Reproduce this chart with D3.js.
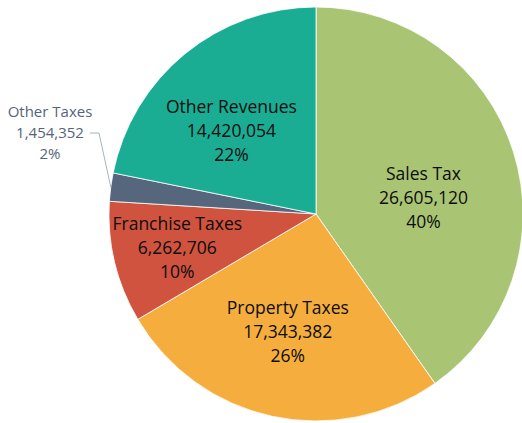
<!DOCTYPE html>
<html lang="en">
<head>
  <meta charset="UTF-8">
  <title>Revenue pie</title>
  <style>
    body { margin: 0; background: #fff; }
    text { font-family: "Open Sans", sans-serif; }
  </style>
</head>
<body>
  <div id="chart"></div>
  <script src="https://d3js.org/d3.v7.min.js"></script>
  <script>
    // data
    const categories = ["Sales Tax", "Property Taxes", "Franchise Taxes", "Other Taxes", "Other Revenues"];
    const values = [26605120, 17343382, 6262706, 1454352, 14420054];
    const percentLabels = ["40%", "26%", "10%", "2%", "22%"];
    const colors = ["#a9c574", "#f5ad3d", "#d0533f", "#56667d", "#1bad94"];

    const width = 522, height = 423;
    const cx = 316, cy = 214, radius = 207;

    const svg = d3.select("#chart")
      .append("svg")
      .attr("width", width)
      .attr("height", height);

    const g = svg.append("g")
      .attr("transform", `translate(${cx},${cy})`);

    const data = categories.map((c, i) => ({ name: c, value: values[i], pct: percentLabels[i], color: colors[i] }));

    const pie = d3.pie().sort(null).value(d => d.value);
    const arcs = pie(data);

    const arc = d3.arc().innerRadius(0).outerRadius(radius);
    const labelArc = d3.arc().innerRadius(radius * 0.6).outerRadius(radius * 0.6);
    const edgeArc = d3.arc().innerRadius(radius).outerRadius(radius);

    g.selectAll("path")
      .data(arcs)
      .join("path")
      .attr("d", arc)
      .attr("fill", d => d.data.color)
      .attr("stroke", "#fff")
      .attr("stroke-width", 0.8);

    const fmt = d3.format(",");

    // nudges so labels sit where excel's "best fit" put them
    const nudge = {
      "Sales Tax": [-11, 21],
      "Property Taxes": [-2, -3],
      "Franchise Taxes": [-18, 5],
      "Other Revenues": [-6, 13]
    };

    const inside = arcs.filter(d => d.data.name !== "Other Taxes");
    const lbl = g.selectAll("text.inside")
      .data(inside)
      .join("text")
      .attr("class", "inside")
      .attr("text-anchor", "middle")
      .attr("font-size", 17.5)
      .attr("fill", "#0d0d0d")
      .attr("transform", d => {
        const [x, y] = labelArc.centroid(d);
        const n = nudge[d.data.name];
        return `translate(${x + n[0]},${y + n[1] + 6})`;
      });
    lbl.each(function (d) {
      const t = d3.select(this);
      [d.data.name, fmt(d.data.value), d.data.pct].forEach((s, i) => {
        t.append("tspan").attr("x", 0).attr("y", (i - 1) * 24).text(s);
      });
    });

    // small slice gets an outside label with a leader line
    const small = arcs.find(d => d.data.name === "Other Taxes");
    const [ex, ey] = edgeArc.centroid(small);
    g.append("polyline")
      .attr("points", [[ex, ey], [99 - cx, 133 - cy], [90 - cx, 133 - cy]].map(p => p.join(",")).join(" "))
      .attr("fill", "none")
      .attr("stroke", "#a9b3c1")
      .attr("stroke-width", 1);

    const out = svg.append("text")
      .attr("text-anchor", "middle")
      .attr("font-size", 15)
      .attr("fill", "#56647a")
      .attr("transform", "translate(50,138)");
    [small.data.name, fmt(small.data.value), small.data.pct].forEach((s, i) => {
      out.append("tspan").attr("x", 0).attr("y", (i - 1) * 21).text(s);
    });
  </script>
</body>
</html>
